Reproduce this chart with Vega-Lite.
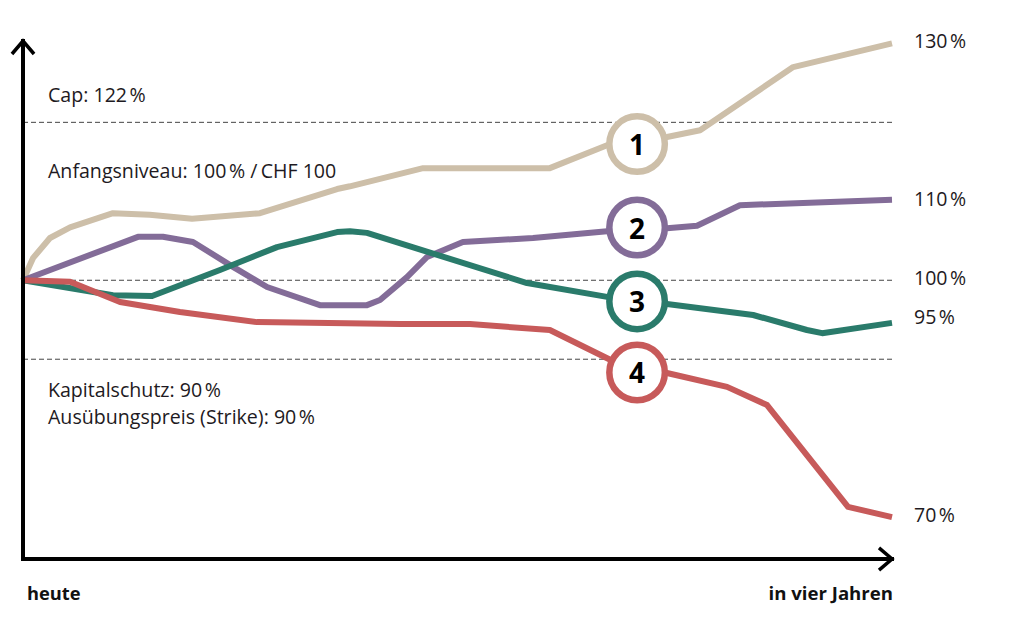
{
  "$schema": "https://vega.github.io/schema/vega-lite/v6.json",
  "width": 869,
  "height": 518,
  "autosize": {"type": "none"},
  "padding": {"left": 23, "top": 41, "right": 127, "bottom": 62},
  "background": "white",
  "config": {"view": {"stroke": null}, "font": "Open Sans"},
  "datasets": {
    "series": [
      {"s": "1", "x": 0, "y": 100}, {"s": "1", "x": 0.55, "y": 102.8}, {"s": "1", "x": 1.49, "y": 105.35}, {"s": "1", "x": 2.6, "y": 106.7}, {"s": "1", "x": 4.97, "y": 108.5}, {"s": "1", "x": 7.0, "y": 108.3}, {"s": "1", "x": 9.34, "y": 107.8}, {"s": "1", "x": 13.09, "y": 108.5}, {"s": "1", "x": 17.35, "y": 111.55}, {"s": "1", "x": 18.06, "y": 111.9}, {"s": "1", "x": 22.1, "y": 114.2}, {"s": "1", "x": 29.1, "y": 114.2}, {"s": "1", "x": 32.26, "y": 117.1}, {"s": "1", "x": 35.57, "y": 118.15}, {"s": "1", "x": 37.4, "y": 119.0}, {"s": "1", "x": 42.54, "y": 127.0}, {"s": "1", "x": 48, "y": 130},
      {"s": "2", "x": 0, "y": 100}, {"s": "2", "x": 6.35, "y": 105.5}, {"s": "2", "x": 7.73, "y": 105.5}, {"s": "2", "x": 9.39, "y": 104.85}, {"s": "2", "x": 11.6, "y": 101.7}, {"s": "2", "x": 13.48, "y": 99.15}, {"s": "2", "x": 16.4, "y": 96.85}, {"s": "2", "x": 19.0, "y": 96.85}, {"s": "2", "x": 19.72, "y": 97.5}, {"s": "2", "x": 21.21, "y": 100.4}, {"s": "2", "x": 22.32, "y": 102.95}, {"s": "2", "x": 24.3, "y": 104.85}, {"s": "2", "x": 28.17, "y": 105.35}, {"s": "2", "x": 32.26, "y": 106.2}, {"s": "2", "x": 35.57, "y": 106.6}, {"s": "2", "x": 37.23, "y": 106.9}, {"s": "2", "x": 39.6, "y": 109.5}, {"s": "2", "x": 48, "y": 110.2},
      {"s": "3", "x": 0, "y": 100}, {"s": "3", "x": 4.97, "y": 98.1}, {"s": "3", "x": 7.13, "y": 98.0}, {"s": "3", "x": 10.88, "y": 101.3}, {"s": "3", "x": 14.03, "y": 104.2}, {"s": "3", "x": 17.35, "y": 106.1}, {"s": "3", "x": 18.06, "y": 106.2}, {"s": "3", "x": 19.0, "y": 106.0}, {"s": "3", "x": 27.84, "y": 99.65}, {"s": "3", "x": 32.26, "y": 97.9}, {"s": "3", "x": 35.57, "y": 97.0}, {"s": "3", "x": 40.33, "y": 95.6}, {"s": "3", "x": 43.3, "y": 93.7}, {"s": "3", "x": 44.14, "y": 93.3}, {"s": "3", "x": 48, "y": 94.6},
      {"s": "4", "x": 0, "y": 100}, {"s": "4", "x": 2.6, "y": 99.8}, {"s": "4", "x": 5.36, "y": 97.25}, {"s": "4", "x": 8.67, "y": 95.98}, {"s": "4", "x": 12.93, "y": 94.7}, {"s": "4", "x": 20.83, "y": 94.45}, {"s": "4", "x": 24.69, "y": 94.45}, {"s": "4", "x": 29.1, "y": 93.7}, {"s": "4", "x": 33.92, "y": 88.25}, {"s": "4", "x": 35.57, "y": 88.25}, {"s": "4", "x": 38.89, "y": 86.5}, {"s": "4", "x": 41.1, "y": 84.2}, {"s": "4", "x": 45.57, "y": 71.3}, {"s": "4", "x": 48, "y": 70}
    ],
    "refs": [{"ref": "Cap", "y": 120}, {"ref": "Anfangsniveau", "y": 100}, {"ref": "Kapitalschutz", "y": 90}],
    "markers": [
      {"s": "1", "x": 33.92, "y": 117.25},
      {"s": "2", "x": 33.92, "y": 106.68},
      {"s": "3", "x": 33.92, "y": 97.32},
      {"s": "4", "x": 33.92, "y": 88.32}
    ],
    "endlabels": [
      {"t": "130\u202f%", "x": 48, "y": 130},
      {"t": "110\u202f%", "x": 48, "y": 110},
      {"t": "100\u202f%", "x": 48, "y": 100},
      {"t": "95\u202f%", "x": 48, "y": 95},
      {"t": "70\u202f%", "x": 48, "y": 70}
    ],
    "notes": [
      {"t": "Cap: 122\u202f%", "x": 1.38, "y": 122.57},
      {"t": "Anfangsniveau: 100\u202f% /\u2009CHF 100", "x": 1.38, "y": 112.95},
      {"t": "Kapitalschutz: 90\u202f%", "x": 1.38, "y": 85.21},
      {"t": "Ausübungspreis (Strike): 90\u202f%", "x": 1.38, "y": 81.8}
    ],
    "axes": [
      {"x": 0, "y": 64.7, "x2": 0, "y2": 130.3},
      {"x": 0, "y": 64.7, "x2": 48, "y2": 64.7}
    ],
    "ends": [
      {"t": "heute", "x": 0, "y": 59.5},
      {"t": "in vier Jahren", "x": 48, "y": 59.5}
    ]
  },
  "layer": [
    {
      "data": {"name": "refs"},
      "mark": {"type": "rule", "stroke": "#444444", "strokeWidth": 1, "strokeDash": [5, 3]},
      "encoding": {
        "y": {"field": "y", "type": "quantitative", "scale": {"domain": [64.7, 130.3], "nice": false, "zero": false}, "axis": null}
      }
    },
    {
      "data": {"name": "series"},
      "mark": {"type": "line", "strokeWidth": 6, "strokeJoin": "round"},
      "encoding": {
        "x": {"field": "x", "type": "quantitative", "scale": {"domain": [0, 48], "nice": false, "zero": false}, "axis": null},
        "y": {"field": "y", "type": "quantitative", "scale": {"domain": [64.7, 130.3], "nice": false, "zero": false}, "axis": null},
        "color": {"field": "s", "type": "nominal", "scale": {"domain": ["1", "2", "3", "4"], "range": ["#cdbfa9", "#836c98", "#2a7b6b", "#c75a5a"]}, "legend": null},
        "order": {"field": "x", "type": "quantitative"}
      }
    },
    {
      "data": {"name": "markers"},
      "mark": {"type": "point", "shape": "circle", "filled": true, "fill": "white", "strokeWidth": 6.5, "size": 3080, "opacity": 1},
      "encoding": {
        "x": {"field": "x", "type": "quantitative", "scale": {"domain": [0, 48], "nice": false, "zero": false}, "axis": null},
        "y": {"field": "y", "type": "quantitative", "scale": {"domain": [64.7, 130.3], "nice": false, "zero": false}, "axis": null},
        "stroke": {"field": "s", "type": "nominal", "scale": {"domain": ["1", "2", "3", "4"], "range": ["#cdbfa9", "#836c98", "#2a7b6b", "#c75a5a"]}, "legend": null}
      }
    },
    {
      "data": {"name": "markers"},
      "mark": {"type": "text", "font": "Open Sans", "fontWeight": "bold", "fontSize": 28, "align": "center", "baseline": "middle", "dy": 3, "color": "#000000"},
      "encoding": {
        "x": {"field": "x", "type": "quantitative", "axis": null},
        "y": {"field": "y", "type": "quantitative", "axis": null},
        "text": {"field": "s"}
      }
    },
    {
      "data": {"name": "endlabels"},
      "mark": {"type": "text", "font": "Open Sans", "fontSize": 19.5, "align": "left", "baseline": "middle", "dx": 22, "dy": -1.5, "color": "#1e1a22"},
      "encoding": {
        "x": {"field": "x", "type": "quantitative", "axis": null},
        "y": {"field": "y", "type": "quantitative", "axis": null},
        "text": {"field": "t"}
      }
    },
    {
      "data": {"name": "notes"},
      "mark": {"type": "text", "font": "Open Sans", "fontSize": 19.6, "align": "left", "baseline": "alphabetic", "color": "#1e1a22"},
      "encoding": {
        "x": {"field": "x", "type": "quantitative", "axis": null},
        "y": {"field": "y", "type": "quantitative", "axis": null},
        "text": {"field": "t"}
      }
    },
    {
      "data": {"name": "ends"},
      "transform": [{"filter": "datum.x == 0"}],
      "mark": {"type": "text", "font": "Open Sans", "fontSize": 18.3, "fontWeight": "bold", "align": "left", "baseline": "alphabetic", "dx": 4, "color": "#111111"},
      "encoding": {
        "x": {"field": "x", "type": "quantitative", "axis": null},
        "y": {"field": "y", "type": "quantitative", "axis": null},
        "text": {"field": "t"}
      }
    },
    {
      "data": {"name": "ends"},
      "transform": [{"filter": "datum.x == 48"}],
      "mark": {"type": "text", "font": "Open Sans", "fontSize": 18.6, "fontWeight": "bold", "align": "right", "baseline": "alphabetic", "dx": 1, "color": "#111111"},
      "encoding": {
        "x": {"field": "x", "type": "quantitative", "axis": null},
        "y": {"field": "y", "type": "quantitative", "axis": null},
        "text": {"field": "t"}
      }
    },
    {
      "data": {"name": "axes"},
      "mark": {"type": "rule", "stroke": "#000000", "strokeWidth": 4, "strokeCap": "square"},
      "encoding": {
        "x": {"field": "x", "type": "quantitative", "axis": null},
        "y": {"field": "y", "type": "quantitative", "axis": null},
        "x2": {"field": "x2"},
        "y2": {"field": "y2"}
      }
    },
    {
      "data": {"name": "axes"},
      "transform": [{"filter": "datum.x2 == 0"}],
      "mark": {"type": "point", "shape": "M-0.85,1L0,0L0.85,1", "filled": false, "stroke": "#000000", "strokeWidth": 3.5, "size": 676, "opacity": 1},
      "encoding": {
        "x": {"field": "x2", "type": "quantitative", "axis": null},
        "y": {"field": "y2", "type": "quantitative", "axis": null}
      }
    },
    {
      "data": {"name": "axes"},
      "transform": [{"filter": "datum.x2 == 48"}],
      "mark": {"type": "point", "shape": "M-1,-0.85L0,0L-1,0.85", "filled": false, "stroke": "#000000", "strokeWidth": 3.5, "size": 676, "opacity": 1},
      "encoding": {
        "x": {"field": "x2", "type": "quantitative", "axis": null},
        "y": {"field": "y2", "type": "quantitative", "axis": null}
      }
    }
  ]
}
